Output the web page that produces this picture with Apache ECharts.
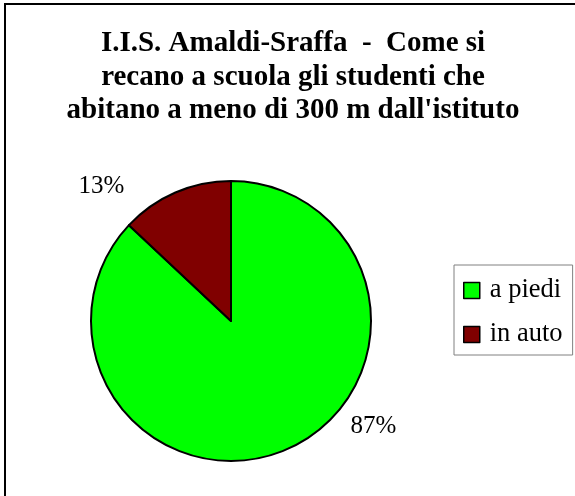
<!DOCTYPE html>
<html>
<head>
<meta charset="utf-8">
<script src="https://cdn.jsdelivr.net/npm/echarts@6/dist/echarts.min.js"></script>
<style>
html,body{margin:0;padding:0;background:#fff;}
#chart{width:575px;height:496px;}
</style>
</head>
<body>
<div id="chart"></div>
<script>
const titleLines = ["I.I.S. Amaldi-Sraffa  -  Come si", "recano a scuola gli studenti che", "abitano a meno di 300 m dall'istituto"];
const categories = ["a piedi", "in auto"];
const values = [87, 13];
const colors = ["#00ff00", "#800000"];

const chart = echarts.init(document.getElementById('chart'));
const serif = "'Liberation Serif', 'Times New Roman', serif";
const labelOffsets = [[43, -37], [-30, 8]];

chart.setOption({
  backgroundColor: '#ffffff',
  animation: false,
  title: {
    text: titleLines.join('\n'),
    left: 293,
    top: 27,
    textAlign: 'center',
    padding: 0,
    textStyle: { fontFamily: serif, fontSize: 29, fontWeight: 'bold', color: '#000', lineHeight: 33.5 }
  },
  legend: {
    orient: 'vertical',
    left: 454,
    top: 265,
    padding: [12, 10, 7, 9],
    itemWidth: 16,
    itemHeight: 16,
    itemGap: 17,
    borderColor: '#808080',
    borderWidth: 1,
    icon: 'rect',
    itemStyle: { borderColor: '#000', borderWidth: 1.5 },
    textStyle: { fontFamily: serif, fontSize: 26.5, color: '#000', padding: [0, 0, 0, 5] },
    data: categories
  },
  graphic: [{
    type: 'rect',
    shape: { x: 5, y: 4, width: 620, height: 620 },
    style: { fill: 'none', stroke: '#000', lineWidth: 2 },
    silent: true
  }],
  series: [{
    type: 'pie',
    center: [231, 321],
    radius: 140,
    startAngle: 90,
    clockwise: true,
    label: {
      show: true,
      position: 'outside',
      formatter: '{d}%',
      fontFamily: serif,
      fontSize: 25,
      color: '#000'
    },
    labelLine: { show: false, length: 15, length2: 10 },
    labelLayout: function (p) {
      const o = labelOffsets[p.dataIndex];
      return { dx: o[0], dy: o[1] };
    },
    itemStyle: { borderColor: '#000', borderWidth: 2 },
    emphasis: { disabled: true },
    data: categories.map((c, i) => ({ name: c, value: values[i], itemStyle: { color: colors[i] } }))
  }]
});
</script>
</body>
</html>
